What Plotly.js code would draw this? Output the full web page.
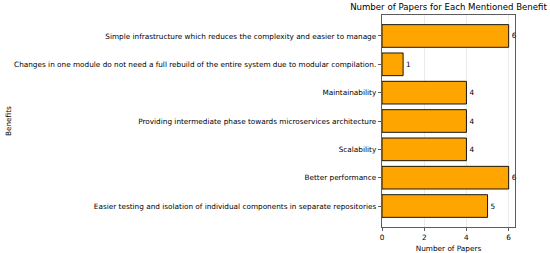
<!DOCTYPE html>
<html><head><meta charset="utf-8">
<script src="https://cdn.plot.ly/plotly-3.0.1.min.js"></script>
<style>html,body{margin:0;padding:0;background:#fff}#chart{width:550px;height:253px}</style>
</head><body><div id="chart"></div>
<script>
const benefits = [
  "Simple infrastructure which reduces the complexity and easier to manage",
  "Changes in one module do not need a full rebuild of the entire system due to modular compilation.",
  "Maintainability",
  "Providing intermediate phase towards microservices architecture",
  "Scalability",
  "Better performance",
  "Easier testing and isolation of individual components in separate repositories"
];
const papers = [6, 1, 4, 4, 4, 6, 5];
const xTicks = [0, 2, 4, 6];

const font = "DejaVu Sans, sans-serif";
Plotly.newPlot("chart", [{
  type: "bar",
  orientation: "h",
  y: benefits,
  x: papers,
  width: 0.8,
  marker: {color: "#FFA500", line: {color: "#000000", width: 0.9}},
  text: papers.map(String),
  textposition: "outside",
  textfont: {family: font, size: 7.3, color: "#000"},
  cliponaxis: false,
  hoverinfo: "none"
}], {
  width: 550, height: 253,
  margin: {l: 382, r: 35, t: 15, b: 26, pad: 0},
  paper_bgcolor: "#fff", plot_bgcolor: "#fff",
  showlegend: false,
  title: {text: "Number of Papers for Each Mentioned Benefit", font: {family: font, size: 8.6, color: "#000"},
          xref: "paper", x: 0.5, xanchor: "center", yref: "container", y: 0.972, yanchor: "middle"},
  xaxis: {
    range: [0, 6.3], tickvals: xTicks, ticktext: xTicks.map(String),
    showgrid: true, gridcolor: "#e6e6e6", gridwidth: 0.8,
    zeroline: false, showline: true, linecolor: "#333", linewidth: 0.8, mirror: true,
    ticks: "outside", ticklen: 3.5, tickwidth: 0.8, tickcolor: "#333",
    tickfont: {family: font, size: 7.3, color: "#000"},
    title: {text: "Number of Papers", font: {family: font, size: 7.3, color: "#000"}, standoff: 4}
  },
  yaxis: {
    type: "category", range: [6.74, -0.74],
    showgrid: false, zeroline: false, showline: true, linecolor: "#333", linewidth: 0.8, mirror: true,
    ticks: "outside", ticklen: 3.5, tickwidth: 0.8, tickcolor: "#333",
    tickfont: {family: font, size: 7.3, color: "#000"}
  },
  annotations: [{
    text: "Benefits", xref: "paper", yref: "paper", x: (8 - 382) / 133, y: 0.5,
    xanchor: "center", yanchor: "middle", textangle: -90, showarrow: false,
    font: {family: font, size: 7.3, color: "#000"}
  }]
}, {displayModeBar: false, staticPlot: true});
</script></body></html>
